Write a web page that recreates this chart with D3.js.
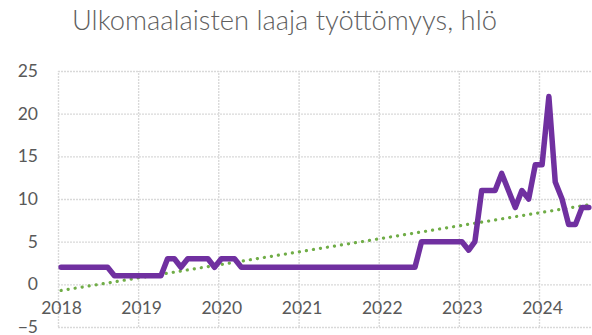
<!DOCTYPE html>
<html>
<head>
<meta charset="utf-8">
<script src="https://cdn.jsdelivr.net/npm/d3@7"></script>
<style>
  html, body { margin: 0; padding: 0; background: #fff; }
  svg { display: block; font-family: Lato, "Open Sans", sans-serif; }
</style>
</head>
<body>
<svg id="chart" width="592" height="335"></svg>
<script>
// Monthly observations, January 2018 onwards
const startYear = 2018;
const startMonth = 0;
const values = [
  2, 2, 2, 2, 2, 2, 2, 2, 1, 1, 1, 1,   // 2018
  1, 1, 1, 1, 3, 3, 2, 3, 3, 3, 3, 2,   // 2019
  3, 3, 3, 2, 2, 2, 2, 2, 2, 2, 2, 2,   // 2020
  2, 2, 2, 2, 2, 2, 2, 2, 2, 2, 2, 2,   // 2021
  2, 2, 2, 2, 2, 2, 5, 5, 5, 5, 5, 5,   // 2022
  5, 4, 5, 11, 11, 11, 13, 11, 9, 11, 10, 14, // 2023
  14, 22, 12, 10, 7, 7, 9, 9            // 2024
];
const yTicks = [-5, 0, 5, 10, 15, 20, 25];
const yearTicks = [2018, 2019, 2020, 2021, 2022, 2023, 2024];
const title = "Ulkomaalaisten laaja työttömyys, hlö";

const svg = d3.select("#chart");
const W = 592, H = 335;

// Each monthly value sits mid-month on the time axis
const data = values.map((v, i) => ({
  date: new Date(startYear, startMonth + i, 15),
  value: v
}));

const x = d3.scaleTime()
  .domain([new Date(2018, 0, 1), new Date(2024, 0, 1)])
  .range([58, 539]);
const y = d3.scaleLinear().domain([-5, 25]).range([327, 71]);

const gridColor = "#d9d9d9";
const textColor = "#595959";

// Horizontal gridlines with value labels
const yAxis = svg.append("g")
  .attr("transform", `translate(${x.range()[0]},0)`)
  .call(d3.axisLeft(y).tickValues(yTicks).tickSize(-(W - x.range()[0])).tickPadding(20).tickFormat(d3.format("d")));
yAxis.select(".domain").remove();
yAxis.selectAll(".tick line")
  .attr("stroke", gridColor).attr("stroke-width", 1.4).attr("stroke-dasharray", "2 1");
yAxis.selectAll(".tick text")
  .attr("fill", textColor).style("font-size", "17.5px").style("font-family", "Lato, sans-serif");

// Vertical gridlines at the start of each year
const yearDates = yearTicks.map(yr => new Date(yr, 0, 1));
const xGrid = svg.append("g")
  .attr("transform", `translate(0,${y(-5)})`)
  .call(d3.axisBottom(x).tickValues(yearDates).tickSize(-(y(-5) - y(25))).tickFormat(""));
xGrid.select(".domain").remove();
xGrid.selectAll(".tick line")
  .attr("stroke", gridColor).attr("stroke-width", 1.4).attr("stroke-dasharray", "2 1");

// Year labels hang below the zero line
const xAxis = svg.append("g")
  .attr("transform", `translate(0,${y(0)})`)
  .call(d3.axisBottom(x).tickValues(yearDates).tickSize(0).tickPadding(17).tickFormat(d3.timeFormat("%Y")));
xAxis.select(".domain").remove();
xAxis.selectAll(".tick text")
  .attr("fill", textColor).attr("dx", 3).style("font-size", "17.5px").style("font-family", "Lato, sans-serif");

// Linear least-squares trend through the monthly values
const n = data.length;
const xs = data.map(d => +d.date);
const mx = d3.mean(xs), my = d3.mean(values);
let sxy = 0, sxx = 0;
for (let i = 0; i < n; i++) {
  sxy += (xs[i] - mx) * (values[i] - my);
  sxx += (xs[i] - mx) * (xs[i] - mx);
}
const slope = sxy / sxx, intercept = my - slope * mx;
const trend = [xs[0], xs[n - 1]].map(t => ({ date: new Date(t), value: intercept + slope * t }));

const line = d3.line().x(d => x(d.date)).y(d => y(d.value));

svg.append("path")
  .datum(trend)
  .attr("d", line)
  .attr("fill", "none")
  .attr("stroke", "#70ad47")
  .attr("stroke-width", 3.2)
  .attr("stroke-linecap", "round")
  .attr("stroke-dasharray", "0.1 7");

svg.append("path")
  .datum(data)
  .attr("d", line)
  .attr("fill", "none")
  .attr("stroke", "#7030a0")
  .attr("stroke-width", 5.5)
  .attr("stroke-linejoin", "round")
  .attr("stroke-linecap", "round");

// Title, sized to its measured width
const t = svg.append("text")
  .attr("x", 284.5).attr("y", 30)
  .attr("text-anchor", "middle")
  .attr("fill", "#5f5f5f")
  .style("font-family", "Lato, sans-serif")
  .style("font-weight", 300)
  .style("font-size", "24px")
  .text(title);
const targetWidth = 425;
const w0 = t.node().getComputedTextLength();
t.style("font-size", (24 * targetWidth / w0).toFixed(2) + "px");
</script>
</body>
</html>
